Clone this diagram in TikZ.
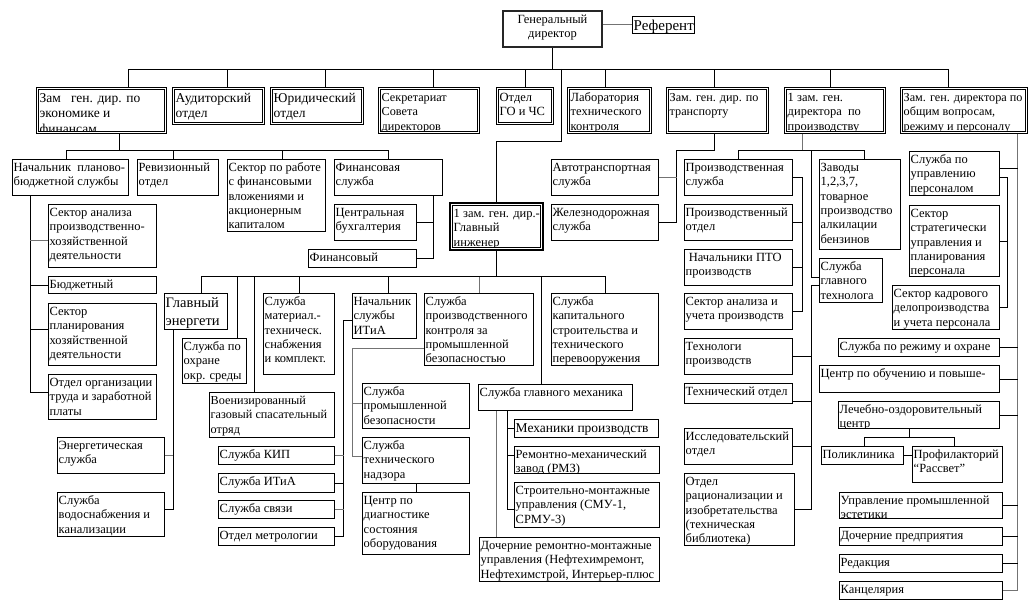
\documentclass[tikz,border=0pt]{standalone}
\usepackage{fontspec}
\setmainfont{Liberation Serif}

\tikzset{
  obox/.style={draw, anchor=north west, inner sep=0pt, line width=0.7pt},
  otext/.style={anchor=north west, inner sep=0pt, align=left, font=\fontsize{12.5}{14.4}\selectfont},
  big/.style={font=\fontsize{13.5}{15.7}\selectfont},
  small/.style={font=\fontsize{12.2}{14.4}\selectfont},
  link/.style={line width=0.7pt},
  glink/.style={line width=0.7pt, draw=black!55},
}

% single box: [text options]{name}{x}{y}{width}{height}{text}
\newcommand{\ob}[7][]{%
  \node[obox, minimum width=#5pt, minimum height=#6pt] (#2) at (#3,#4) {};
  \begin{scope}
    \clip (#2.north west) rectangle (#2.south east);
    \node[otext, #1] at ([xshift=1.5pt, yshift=-2pt]#2.north west) {\strut #7};
  \end{scope}}

% double box
\newcommand{\obd}[7][]{%
  \node[obox, minimum width=#5pt, minimum height=#6pt] (#2) at (#3,#4) {};
  \draw[line width=1.1pt] ([shift={(2.5pt,-2.5pt)}]#2.north west) rectangle ([shift={(-2.5pt,2.5pt)}]#2.south east);
  \begin{scope}
    \clip ([shift={(3pt,-3pt)}]#2.north west) rectangle ([shift={(-2.5pt,3pt)}]#2.south east);
    \node[otext, #1] at ([xshift=3.5pt, yshift=-4pt]#2.north west) {\strut #7};
  \end{scope}}

\begin{document}
\begin{tikzpicture}[x=1pt, y=-1pt]
\useasboundingbox (0,0) rectangle (1033,602);

% head
\node[obox, line width=2pt, draw=black!85, minimum width=99pt, minimum height=36pt] (gd) at (502,10) {};
\node[otext, anchor=north, align=center] at ([yshift=-3pt]gd.north) {\strut Генеральный\\директор};
\ob[font=\fontsize{15}{17}\selectfont]{ref}{632}{16}{62}{17}{Референт}

% first level
\obd[big]{zef}{36}{87}{130}{46}{Зам\ \ \ ген. дир. по\\экономике и\\финансам}
\obd[big]{aud}{172}{87}{92}{37}{Аудиторский\\отдел}
\obd[big]{jur}{270}{87}{93}{37}{Юридический\\отдел}
\obd[small]{sec}{378}{87}{101}{46}{Секретариат\\Совета\\директоров}
\obd{go}{496}{87}{57}{37}{Отдел\\ГО и ЧС}
\obd{lab}{567}{87}{84}{46}{Лаборатория\\технического\\контроля}
\obd[small]{trn}{666}{87}{102}{46}{Зам. ген. дир. по\\транспорту}
\obd{pr1}{784}{87}{101}{46}{1 зам. ген.\\директора\ \ по\\производству}
\obd[small]{gen}{900}{87}{127}{46}{Зам. ген. директора по\\общим вопросам,\\режиму и персоналу}

% economics
\ob{npb}{12}{159}{116}{36}{Начальник\ \ планово-\\бюджетной службы}
\ob{rev}{137}{159}{81}{36}{Ревизионный\\отдел}
\ob{sfv}{227}{159}{98}{72}{Сектор по работе\\с финансовыми\\вложениями и\\акционерным\\капиталом}
\ob{fin}{334}{159}{108}{36}{Финансовая\\служба}
\ob{cbu}{334}{204}{82}{36}{Центральная\\бухгалтерия}
\ob{fny}{308}{249}{108}{18}{Финансовый}
\ob{sap}{48}{204}{108}{63}{Сектор анализа\\производственно-\\хозяйственной\\деятельности}
\ob{bud}{48}{276}{108}{17}{Бюджетный}
\ob{sph}{48}{303}{108}{62}{Сектор\\планирования\\хозяйственной\\деятельности}
\ob{oot}{48}{374}{108}{45}{Отдел организации\\труда и заработной\\платы}

% transport
\ob{avt}{551}{159}{107}{36}{Автотранспортная\\служба}
\ob{zhd}{551}{204}{107}{36}{Железнодорожная\\служба}

% production
\ob{psl}{684}{159}{108}{36}{Производственная\\служба}
\ob{pot}{684}{204}{108}{36}{Производственный\\отдел}
\ob{pto}{684}{249}{108}{36}{\ Начальники ПТО\\производств}
\ob{sau}{684}{293}{108}{36}{Сектор анализа и\\учета производств}
\ob{tex}{684}{338}{108}{36}{Технологи\\производств}
\ob{tot}{684}{383}{108}{20}{Технический отдел}
\ob{iss}{684}{428}{108}{36}{Исследовательский\\отдел}
\ob{rac}{684}{473}{110}{72}{Отдел\\рационализации и\\изобретательства\\(техническая\\библиотека)}
\ob{zav}{819}{159}{81}{90}{Заводы\\1,2,3,7,\\товарное\\производство\\алкилации\\бензинов}
\ob{sgt}{819}{258}{63}{44}{Служба\\главного\\технолога}

% general affairs
\ob{sup}{909}{151}{90}{44}{Служба по\\управлению\\персоналом}
\ob{ssu}{909}{205}{90}{71}{Сектор\\стратегически\\управления и\\планирования\\персонала}
\ob{skd}{892}{285}{107}{44}{Сектор кадрового\\делопроизводства\\и учета персонала}
\ob{sro}{838}{338}{161}{18}{Служба по режиму и охране}
\ob{cob}{819}{365}{180}{27}{Центр по обучению и повыше-}
\ob{loc}{838}{401}{161}{27}{Лечебно-оздоровительный\\центр}
\ob{pol}{821}{446}{82}{18}{Поликлиника}
\ob{prf}{912}{446}{90}{36}{Профилакторий\\“Рассвет”}
\ob{upe}{839}{492}{163}{26}{Управление промышленной\\эстетики}
\ob{dpr}{839}{527}{163}{18}{Дочерние предприятия}
\ob{red}{839}{554}{163}{18}{Редакция}
\ob{kan}{839}{581}{163}{18}{Канцелярия}

% chief engineer
\obd{gi}{450}{203}{92}{46}{1 зам. ген. дир.-\\Главный\\инженер}
\draw[line width=1.8pt] (gi.north west) rectangle (gi.south east);
\ob[font=\fontsize{14.5}{18}\selectfont]{gen1}{164}{293}{63}{36}{Главный\\энергети}
\ob{soc}{182}{338}{64}{45}{Служба по\\охране\\окр. среды}
\ob{smt}{263}{293}{71}{81}{Служба\\материал.-\\техническ.\\снабжения\\и комплект.}
\ob{itia}{352}{293}{64}{45}{Начальник\\службы\\ИТиА}
\ob{spk}{424}{293}{109}{72}{Служба\\производственного\\контроля за\\промышленной\\безопасностью}
\ob{skc}{551}{293}{107}{72}{Служба\\капитального\\строительства и\\технического\\перевооружения}
\ob[small]{vgs}{209}{392}{125}{45}{Военизированный\\газовый спасательный\\отряд}
\ob{ens}{57}{437}{107}{36}{Энергетическая\\служба}
\ob{svk}{57}{492}{107}{44}{Служба\\водоснабжения и\\канализации}
\ob{kip}{218}{446}{116}{18}{Служба КИП}
\ob{itia2}{218}{473}{116}{19}{Служба ИТиА}
\ob{svz}{218}{500}{116}{18}{Служба связи}
\ob{met}{218}{527}{116}{18}{Отдел метрологии}
\ob{spb}{362}{383}{107}{45}{Служба\\промышленной\\безопасности}
\ob{stn}{362}{437}{107}{46}{Служба\\технического\\надзора}
\ob{cdo}{362}{492}{107}{62}{Центр по\\диагностике\\состояния\\оборудования}
\ob{sgm}{478}{384}{154}{26}{Служба главного механика}
\ob[big]{mpr}{514}{419}{144}{18}{Механики производств}
\ob{rmz}{514}{446}{145}{27}{Ремонтно-механический\\завод (РМЗ)}
\ob{smu}{514}{482}{145}{45}{Строительно-монтажные\\управления (СМУ-1,\\СРМУ-3)}
\ob{drm}{479}{537}{180}{44}{Дочерние ремонтно-монтажные\\управления (Нефтехимремонт,\\Нефтехимстрой, Интерьер-плюс}

% connectors, top
\draw[glink] (gd.east |- ref.west) -- (ref.west);
\coordinate (tb) at (0,69);
\draw[link] (gd.south) -- (gd.south |- tb);
\draw[link] ([xshift=27pt]zef.north) |- ([xshift=-15.5pt]gen.north |- tb) -- ([xshift=-15.5pt]gen.north);
\foreach \n/\s in {aud/9, jur/8.5, sec/4.5, go/0, lab/-4, trn/-3, pr1/-4.5}
  \draw[link] ([xshift=\s pt]\n.north) -- ([xshift=\s pt]\n.north |- tb);
\draw[link] ([xshift=8.5pt]gd.south |- tb) -- ++(0,72) -| (gi.north);

% economics
\coordinate (eb) at (0,150);
\draw[link] ([xshift=18pt]zef.south) -- ([xshift=18pt]zef.south |- eb);
\draw[link] ([xshift=-4pt]npb.north) |- (fin.north |- eb) -- (fin.north);
\foreach \n/\s in {rev/-4.5, sfv/6}
  \draw[link] ([xshift=\s pt]\n.north) -- ([xshift=\s pt]\n.north |- eb);
\draw[link] ([xshift=-9pt]fin.south east) |- (fny.east);
\draw[link] (cbu.east) -- ([xshift=-9pt]fin.south east |- cbu.east);
\coordinate (nl) at ([xshift=18pt]npb.south west);
\draw[link] (nl) |- ([yshift=4.5pt]oot.west);
\draw[glink] ([yshift=-4.5pt]sap.west) -- ([yshift=-4.5pt]sap.west -| nl);
\draw[link] (bud.west) -- (bud.west -| nl);
\draw[link] ([yshift=5pt]sph.west) -- ([yshift=5pt]sph.west -| nl);

% transport
\coordinate (tl) at ([xshift=18pt]avt.east |- eb);
\draw[link] ([xshift=-3pt]trn.south) |- (tl) |- (zhd.east);
\draw[glink] (avt.east) -- (avt.east -| tl);

% production
\draw[glink] ([xshift=-32.5pt]pr1.south) -- ([xshift=-32.5pt]pr1.south |- eb);
\draw[link] (psl.north) |- ([xshift=4.5pt]zav.north |- eb) -- ([xshift=4.5pt]zav.north);
\coordinate (pv) at ([xshift=-8pt]sgt.north west |- eb);
\draw[link] (pv) |- ([yshift=3pt]sgt.west);
\draw[link] ([yshift=-5pt]sgt.west) -| (rac.east -| pv) -- (rac.east);
\draw[link] (tex.east) -- (tex.east -| pv);
\draw[link] ([yshift=-8pt]tot.east) -- ([yshift=-8pt]tot.east -| pv);
\draw[link] (iss.east) -- (iss.east -| pv);
\coordinate (pbr) at ([xshift=10pt]psl.east);
\draw[link] (psl.east) -- (pbr) |- (sau.east);
\foreach \n in {pot, pto}
  \draw[link] (\n.east) -- (\n.east -| pbr);

% general affairs
\coordinate (gr) at ([xshift=-10pt]gen.south east);
\draw[glink] (gr) |- (kan.east);
\draw[link] ([yshift=5pt]sup.east) -- ([yshift=5pt]sup.east -| gr);
\foreach \n in {sro, cob, loc, upe, dpr, red}
  \draw[link] (\n.east) -- (\n.east -| gr);
\draw[link] ([yshift=-4pt]sup.east) -| ([xshift=8pt]skd.east) -- (skd.east);
\draw[link] (ssu.east) -- ++(8,0);
\draw[link] ([xshift=-9.5pt]loc.south) -- ++(0,9) coordinate (lb);
\draw[link] ([xshift=2pt]pol.north) |- (lb) -| ([xshift=-3pt]prf.north);
\draw[link] (pol.east) -- (pol.east -| prf.west);

% chief engineer
\coordinate (gb) at ([yshift=-27pt]gi.south);
\draw[link] (gi.south) -- (gb);
\draw[link] ([xshift=5.5pt]gen1.north) |- (skc.north |- gb) -- (skc.north);
\foreach \n/\s in {soc/23, vgs/-17.5, smt/0, itia/4, sgm/-14}
  \draw[link] ([xshift=\s pt]\n.north) -- ([xshift=\s pt]\n.north |- gb);
\draw[glink] (spk.north) -- (spk.north |- gb);
\coordinate (el) at ([xshift=9pt]gen1.south west);
\draw[link] (el) |- ([yshift=5pt]svk.east);
\draw[glink] (ens.east) -- (ens.east -| el);
\draw[link] ([yshift=-4.5pt]itia.west) -| ([xshift=9pt]met.east) -- (met.east);
\draw[glink] (kip.east) -- ++(9,0);
\draw[link] (itia2.east) -- ++(9,0);
\draw[glink] (svz.east) -- ++(9,0);
\draw[glink] ([yshift=-19pt]spk.west) -| ([xshift=-10pt, yshift=4pt]stn.west) -- ([yshift=4pt]stn.west);
\draw[glink] ([yshift=3pt]spb.west) -- ++(-10,0);
\draw[link] (stn.south) -- (cdo.north);
\draw[link] ([xshift=29pt]sgm.south west) |- ([yshift=-4.5pt]smu.west);
\draw[link] (mpr.west) -- ++(-7,0);
\draw[link] ([yshift=4.5pt]rmz.west) -- ++(-7,0);
\draw[glink] ([xshift=18pt]sgm.south west) -- ([xshift=18pt]sgm.south west |- drm.north);

\end{tikzpicture}
\end{document}
